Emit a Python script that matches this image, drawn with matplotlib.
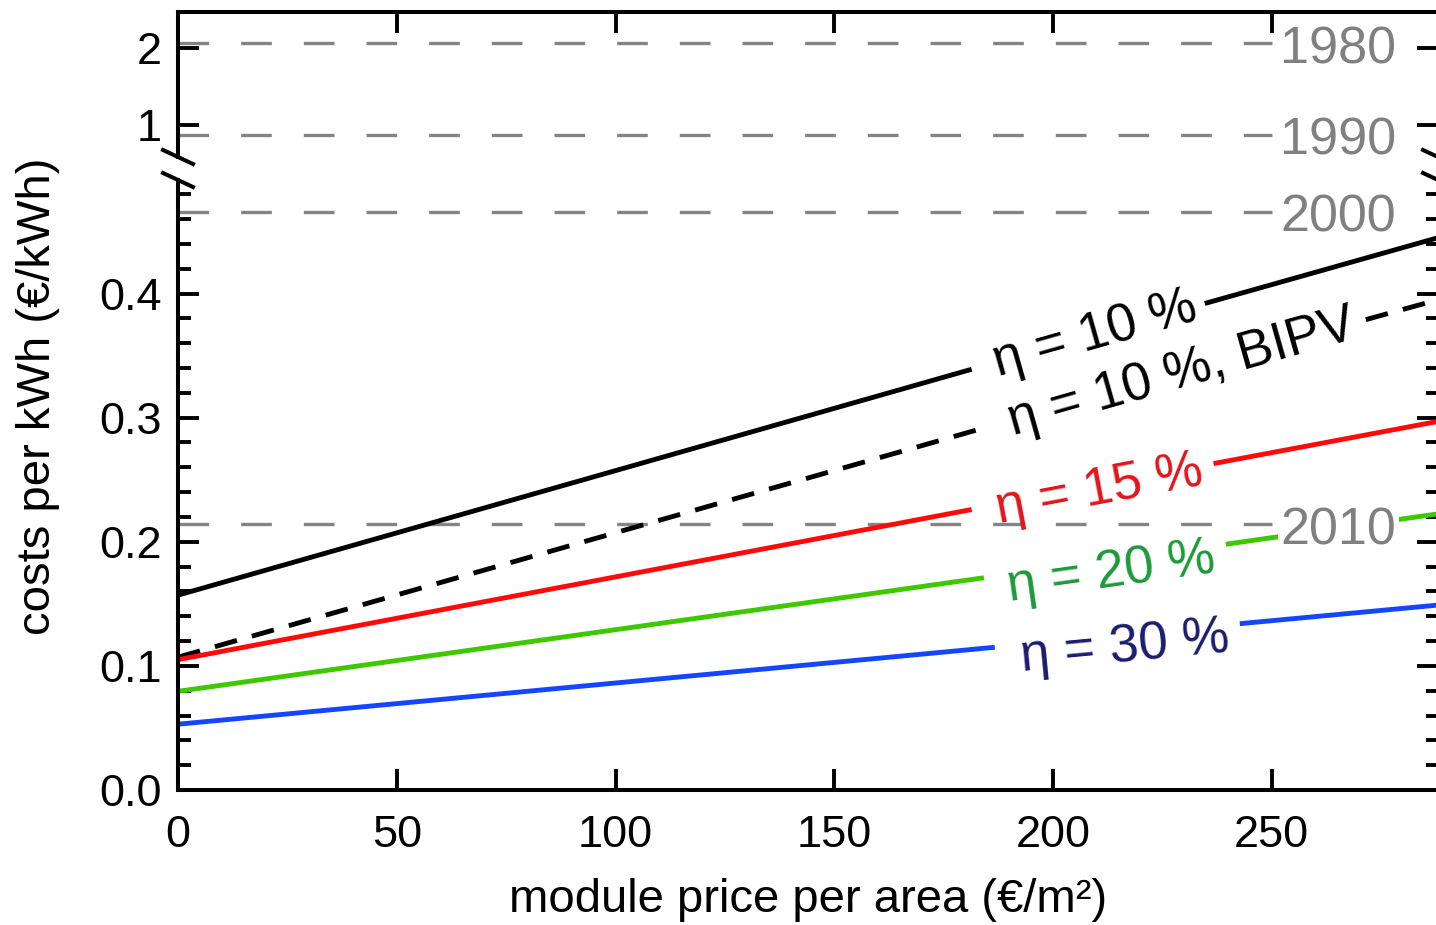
import numpy as np
import matplotlib
matplotlib.use("Agg")
import matplotlib.pyplot as plt
from matplotlib.lines import Line2D

plt.rcParams['font.family'] = ['Liberation Sans', 'DejaVu Sans']

# curves: segment ends (module price in EUR/m2, cost in EUR/kWh), gaps leave room for the labels
eta10_x = [[0, 181.4], [234.7, 288]]
eta10_y = [[0.157, 0.339], [0.392, 0.445]]
bipv_x = [[0, 185.5], [271.5, 288]]
bipv_y = [[0.107, 0.293], [0.379, 0.395]]
eta15_x = [[0, 181.4], [236.7, 288]]
eta15_y = [[0.105, 0.226], [0.263, 0.297]]
eta20_x = [[0, 184.2], [239.5, 288]]
eta20_y = [[0.0795, 0.171], [0.198, 0.2225]]
eta30_x = [[0, 186.7], [242.7, 288]]
eta30_y = [[0.053, 0.115], [0.134, 0.149]]

# historic costs per kWh (dashed grey lines)
years = ["1980", "1990", "2000", "2010"]
year_cost = [2.065, 0.87, 0.466, 0.214]
year_line_x = [0, 250]

xticks = [0, 50, 100, 150, 200, 250]
yticks = [0.0, 0.1, 0.2, 0.3, 0.4]
yticks_top = [1, 2]


def main():

    fig = plt.figure(figsize=(14.36, 9.25), dpi=100)
    W, H = 1436.0, 925.0
    ax = fig.add_axes([178 / W, (H - 790) / H, 1260 / W, 610 / H])
    axt = fig.add_axes([178 / W, (H - 157) / H, 1260 / W, 145 / H])

    ax.set_xlim(0, 288)
    axt.set_xlim(0, 288)
    ax.set_ylim(0, 0.4915)
    axt.set_ylim(0.583, 2.473)

    for a in (ax, axt):
        for s in a.spines.values():
            s.set_linewidth(2.9)
    ax.spines['top'].set_visible(False)
    axt.spines['bottom'].set_visible(False)

    tick_kw = dict(direction='in', width=2.8, labelsize=32.5, pad=11.5)
    ax.set_xticks(xticks)
    ax.set_yticks(yticks)
    ax.set_yticklabels(["%.1f" % v for v in yticks])
    ax.set_yticks(np.arange(0, 0.49, 0.02), minor=True)
    ax.tick_params(axis='both', which='major', length=15, right=True, **tick_kw)
    ax.tick_params(axis='x', pad=18)
    ax.tick_params(axis='y', which='minor', length=9, width=2.8,
                   direction='in', right=True)
    ax.tick_params(axis='x', which='minor', bottom=False)

    axt.set_xticks(xticks)
    axt.set_yticks(yticks_top)
    axt.tick_params(axis='both', which='major', length=15, right=True,
                    top=True, bottom=False, labelbottom=False, **tick_kw)
    axt.minorticks_off()

    # broken axis marks
    for a, dy in ((axt, 7 / 145.0), (ax, 7 / 610.0)):
        yb = 0 if a is axt else 1
        for xb in (0, 1):
            a.add_line(Line2D([xb - 15 / 1260.0, xb + 15 / 1260.0],
                              [yb + dy, yb - dy], transform=a.transAxes,
                              color='black', lw=2.9, clip_on=False))

    # historic cost levels
    for yr, c in zip(years, year_cost):
        a = axt if c > 0.5 else ax
        a.plot(year_line_x, [c, c], color='#848484', lw=2.4,
               linestyle=(0, (9.2, 9.6)), zorder=1)
        a.annotate(yr, (252, c), xytext=(0, -4.5), textcoords='offset points',
                   ha='left', va='center', fontsize=37.5, color='#808080',
                   zorder=4,
                   bbox=dict(boxstyle='square,pad=0.05', fc='white', ec='none'))

    series = [
        (eta10_x, eta10_y, 'black', '-', r'η = 10 %', 'black', (209.6, 0.367)),
        (bipv_x, bipv_y, 'black', (0, (4.7, 3.2)), r'η = 10 %, BIPV', 'black',
         (229.4, 0.336)),
        (eta15_x, eta15_y, '#ff0a0a', '-', r'η = 15 %', '#e3141c', (210.7, 0.242)),
        (eta20_x, eta20_y, '#3ec800', '-', r'η = 20 %', '#1e9a3a', (213.4, 0.175)),
        (eta30_x, eta30_y, '#1446ff', '-', r'η = 30 %', '#1c1c6e', (216.4, 0.115)),
    ]
    for xs, ys, col, ls, lab, tcol, pos in series:
        for sx, sy in zip(xs, ys):
            ax.plot(sx, sy, color=col, lw=3.5, linestyle=ls, zorder=2,
                    solid_capstyle='butt')
        ang = np.degrees(np.arctan2(ys[-1][1] - ys[0][0], xs[-1][1] - xs[0][0]))
        ax.text(pos[0], pos[1], lab, color=tcol, fontsize=38, ha='center',
                va='center', rotation=ang, rotation_mode='anchor',
                transform_rotates_text=True, zorder=3)

    ax.set_xlabel("module price per area (€/m²)", fontsize=34, va='center')
    ax.xaxis.set_label_coords(0.5, -0.18)
    ax.set_ylabel("costs per kWh (€/kWh)", fontsize=34, va='center',
                  ha='center', rotation_mode='anchor')
    ax.yaxis.set_label_coords(-0.111, 0.645)

    fig.savefig("out.png", dpi=100)


if __name__ == "__main__":

    main()
